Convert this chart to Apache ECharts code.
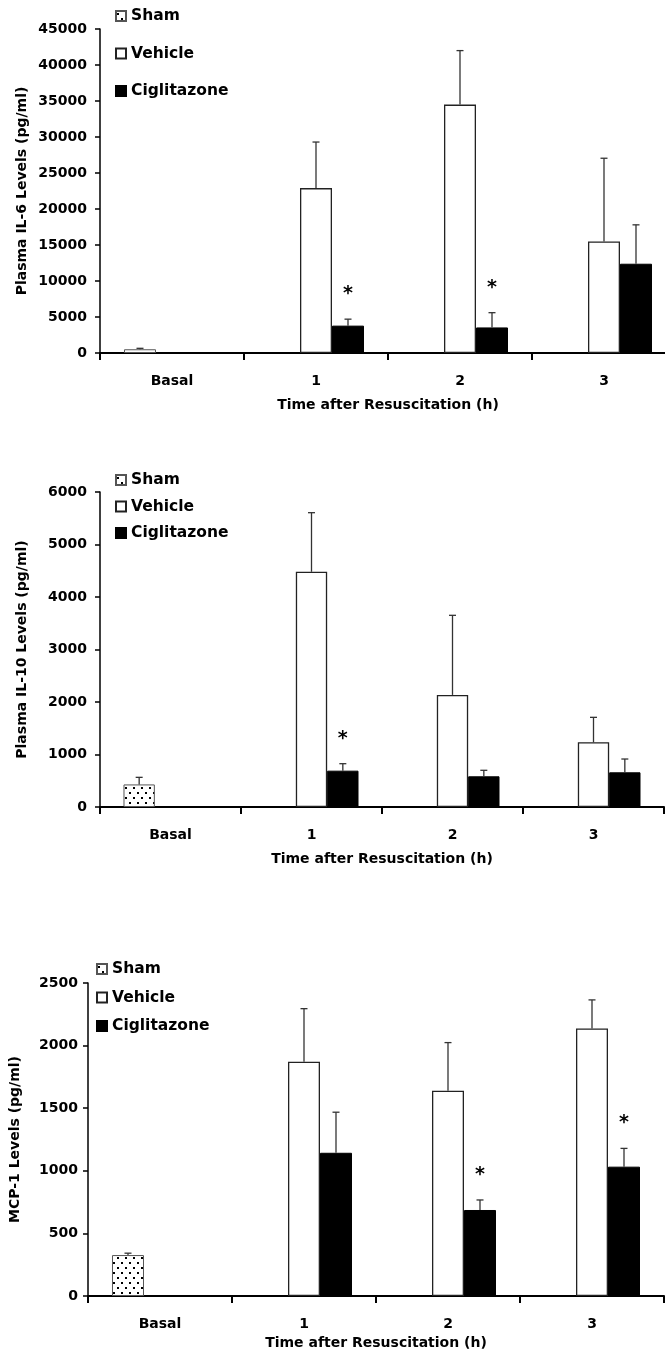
<!DOCTYPE html>
<html>
<head>
<meta charset="utf-8">
<script src="https://cdn.jsdelivr.net/npm/echarts@6/dist/echarts.min.js"></script>
<style>
  html, body { margin: 0; padding: 0; background: #fff; }
  #chart { width: 665px; height: 1355px; }
</style>
</head>
<body>
<div id="chart"></div>
<script>
// 数据
const categories = ['Basal', '1', '2', '3'];
const seriesNames = ['Sham', 'Vehicle', 'Ciglitazone'];

// IL-6
const il6Sham = [520, null, null, null];
const il6ShamErr = [130, null, null, null];
const il6Vehicle = [null, 22900, 34500, 15500];
const il6VehicleErr = [null, 6400, 7500, 11550];
const il6Cig = [null, 3800, 3550, 12400];
const il6CigErr = [null, 900, 2050, 5400];
const il6Sig = [0, 1, 1, 0];

// IL-10
const il10Sham = [430, null, null, null];
const il10ShamErr = [135, null, null, null];
const il10Vehicle = [null, 4480, 2135, 1232];
const il10VehicleErr = [null, 1126, 1516, 476];
const il10Cig = [null, 692, 585, 661];
const il10CigErr = [null, 133, 114, 253];
const il10Sig = [0, 1, 0, 0];

// MCP-1
const mcpSham = [327, null, null, null];
const mcpShamErr = [15, null, null, null];
const mcpVehicle = [null, 1871, 1640, 2136];
const mcpVehicleErr = [null, 424, 384, 229];
const mcpCig = [null, 1144, 687, 1033];
const mcpCigErr = [null, 324, 80, 146];
const mcpSig = [0, 0, 1, 1];

const font = { fontFamily: 'DejaVu Sans', fontWeight: 'bold', fontSize: 14, color: '#000' };

// 点状填充
const dotCanvas = document.createElement('canvas');
dotCanvas.width = 8;
dotCanvas.height = 10;
const dctx = dotCanvas.getContext('2d');
dctx.fillStyle = '#fff';
dctx.fillRect(0, 0, 8, 10);
dctx.fillStyle = '#000';
dctx.fillRect(1, 2, 2, 2);
dctx.fillRect(5, 7, 2, 2);

const panels = [
  { name: 'Plasma IL-6 Levels (pg/ml)', max: 45000, interval: 5000,
    grid: { left: 100, top: 29, width: 576, height: 324 }, labelMargin: 13, nameGap: 71, xNameGap: 45,
    legend: { left: 110, top: 3, itemGap: 21.5 },
    sham: il6Sham, shamErr: il6ShamErr, veh: il6Vehicle, vehErr: il6VehicleErr, cig: il6Cig, cigErr: il6CigErr, sig: il6Sig },
  { name: 'Plasma IL-10 Levels (pg/ml)', max: 6000, interval: 1000,
    grid: { left: 100, top: 492, width: 564, height: 315 }, labelMargin: 13, nameGap: 71, xNameGap: 45,
    legend: { left: 110, top: 467, itemGap: 10.5 },
    sham: il10Sham, shamErr: il10ShamErr, veh: il10Vehicle, vehErr: il10VehicleErr, cig: il10Cig, cigErr: il10CigErr, sig: il10Sig },
  { name: 'MCP-1 Levels (pg/ml)', max: 2500, interval: 500,
    grid: { left: 88, top: 983, width: 576, height: 313 }, labelMargin: 10, nameGap: 66, xNameGap: 40,
    legend: { left: 91, top: 956, itemGap: 12.5 },
    sham: mcpSham, shamErr: mcpShamErr, veh: mcpVehicle, vehErr: mcpVehicleErr, cig: mcpCig, cigErr: mcpCigErr, sig: mcpSig }
];

const grids = [], xAxes = [], yAxes = [], legends = [], series = [];

panels.forEach(function (p, k) {
  grids.push(Object.assign({ outerBoundsMode: 'none', containLabel: false }, p.grid));
  xAxes.push({
    type: 'category', gridIndex: k, data: categories,
    name: 'Time after Resuscitation (h)', nameLocation: 'middle', nameGap: p.xNameGap,
    nameTextStyle: font, nameMoveOverlap: false,
    axisLine: { lineStyle: { color: '#000', width: 2 } },
    axisTick: { show: true, length: 7, lineStyle: { color: '#000', width: 2 } },
    axisLabel: Object.assign({ margin: 21 }, font)
  });
  yAxes.push({
    type: 'value', gridIndex: k, min: 0, max: p.max, interval: p.interval,
    name: p.name, nameLocation: 'middle', nameGap: p.nameGap, nameTextStyle: font, nameMoveOverlap: false,
    axisLine: { show: true, lineStyle: { color: '#000', width: 1.5 } },
    axisTick: { show: true, length: 5, lineStyle: { color: '#000', width: 1.5 } },
    axisLabel: Object.assign({ margin: p.labelMargin, formatter: function (v) { return String(v); } }, font),
    splitLine: { show: false }
  });
  legends.push({
    orient: 'vertical', left: p.legend.left, top: p.legend.top, itemGap: p.legend.itemGap,
    itemWidth: 10, itemHeight: 10, icon: 'rect', selectedMode: false,
    textStyle: Object.assign({}, font, { lineHeight: 16, fontSize: 15.5 }),
    data: seriesNames
  });

  const common = { type: 'bar', xAxisIndex: k, yAxisIndex: k, barGap: '0%', barCategoryGap: '33.33%' };
  series.push(Object.assign({ name: 'Sham', data: p.sham,
    itemStyle: { color: { image: dotCanvas, repeat: 'repeat' }, borderColor: '#555', borderWidth: 1 } }, common));
  series.push(Object.assign({ name: 'Vehicle', data: p.veh,
    itemStyle: { color: '#fff', borderColor: '#222', borderWidth: 1.3 } }, common));
  series.push(Object.assign({ name: 'Ciglitazone', data: p.cig,
    itemStyle: { color: '#000', borderColor: '#000', borderWidth: 1 } }, common));

  // 误差线
  const errData = [];
  [[p.sham, p.shamErr], [p.veh, p.vehErr], [p.cig, p.cigErr]].forEach(function (g, slot) {
    g[0].forEach(function (v, i) {
      if (v != null) errData.push([i, v, g[1][i], slot, slot === 2 ? p.sig[i] : 0]);
    });
  });
  series.push({
    type: 'custom', xAxisIndex: k, yAxisIndex: k, z: 5, silent: true,
    data: errData,
    renderItem: function (params, api) {
      const cat = api.value(0), v = api.value(1), e = api.value(2), slot = api.value(3), sig = api.value(4);
      const bw = api.size([1, 0])[0];
      const barW = bw * 2 / 9;
      const base = api.coord([cat, v]);
      const top = api.coord([cat, v + e]);
      const x = base[0] + (slot - 1) * barW;
      const style = { stroke: '#333', lineWidth: 1.3 };
      const children = [
        { type: 'line', shape: { x1: x, y1: base[1], x2: x, y2: top[1] }, style: style },
        { type: 'line', shape: { x1: x - 3.5, y1: top[1], x2: x + 3.5, y2: top[1] }, style: style }
      ];
      if (sig) {
        children.push({ type: 'text', x: x, y: top[1] - 25,
          style: { text: '*', fontFamily: 'DejaVu Sans', fontWeight: 'bold', fontSize: 19, fill: '#000',
                   align: 'center', verticalAlign: 'middle' } });
      }
      return { type: 'group', children: children };
    }
  });
});

const myChart = echarts.init(document.getElementById('chart'));
myChart.setOption({
  animation: false,
  grid: grids,
  xAxis: xAxes,
  yAxis: yAxes,
  legend: legends,
  series: series
});
</script>
</body>
</html>
